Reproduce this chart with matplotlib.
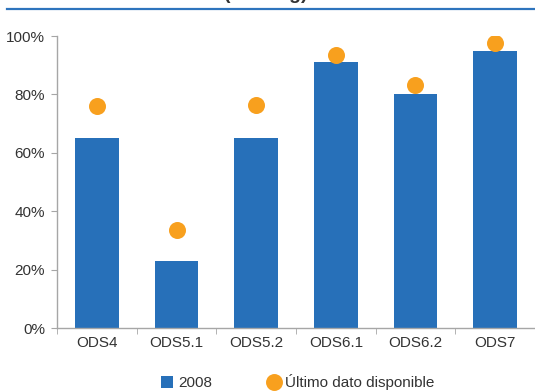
import matplotlib
matplotlib.use("Agg")
import matplotlib.pyplot as plt
from matplotlib.lines import Line2D
from matplotlib.ticker import FixedLocator, PercentFormatter

plt.rcParams['font.family'] = ['Liberation Sans', 'DejaVu Sans']

categories = ["ODS4", "ODS5.1", "ODS5.2", "ODS6.1", "ODS6.2", "ODS7"]
valores_2008 = [0.65, 0.23, 0.65, 0.91, 0.80, 0.95]
ultimo_dato = [0.76, 0.335, 0.763, 0.934, 0.833, 0.976]
yticks = [0, 0.2, 0.4, 0.6, 0.8, 1.0]

bar_color = "#2770B9"
dot_color = "#F8A01E"
axis_color = "#A6A6A6"
text_color = "#333333"
label_size = 11

fig = plt.figure(figsize=(5.35, 3.91), dpi=100)
ax = fig.add_axes([57 / 535, 1 - 328 / 391, 1 - 57 / 535, (328 - 36) / 391])

x = list(range(len(categories)))
ax.bar(x, valores_2008, width=0.55, color=bar_color, zorder=2)
ax.scatter(x, ultimo_dato, s=150, color=dot_color, zorder=3, linewidths=0)

ax.set_xlim(-0.5, len(categories) - 0.5)
ax.set_ylim(0, 1)
ax.set_yticks(yticks)
ax.yaxis.set_major_formatter(PercentFormatter(1.0, decimals=0))
ax.set_xticks(x)
ax.set_xticklabels(categories)
ax.xaxis.set_minor_locator(FixedLocator([i - 0.5 for i in range(len(categories) + 1)]))

for side in ("top", "right"):
    ax.spines[side].set_visible(False)
for side in ("left", "bottom"):
    ax.spines[side].set_color(axis_color)
    ax.spines[side].set_linewidth(1.0)

ax.tick_params(axis="y", length=4, color=axis_color, labelsize=label_size,
               labelcolor=text_color, pad=4.5)
ax.tick_params(axis="x", which="major", length=0, labelsize=label_size,
               labelcolor=text_color, pad=6)
ax.tick_params(axis="x", which="minor", length=4, color=axis_color)

# Title band at the top of the figure (title runs off the top edge)
fig.add_artist(Line2D([7 / 535, 1.0], [1 - 9 / 391, 1 - 9 / 391],
                      color="#2E74BD", linewidth=1.6))
fig.text(266 / 535, 1 + 1 / 391, "(ranking)", ha="center", va="baseline",
         fontsize=14, fontweight="bold", color=text_color)

handles = [
    Line2D([], [], marker="s", linestyle="none", markersize=8.6,
           markerfacecolor=bar_color, markeredgewidth=0, label="2008"),
    Line2D([], [], marker="o", linestyle="none", markersize=12.2,
           markerfacecolor=dot_color, markeredgewidth=0,
           label="Último dato disponible"),
]
leg = fig.legend(handles=handles, loc="center", bbox_to_anchor=(297 / 535, 1 - 382 / 391),
                 ncol=2, frameon=False, fontsize=label_size, handlelength=1.0,
                 handletextpad=0.2, columnspacing=3.6, borderaxespad=0)
for t in leg.get_texts():
    t.set_color(text_color)

fig.savefig("out.png", dpi=100)
